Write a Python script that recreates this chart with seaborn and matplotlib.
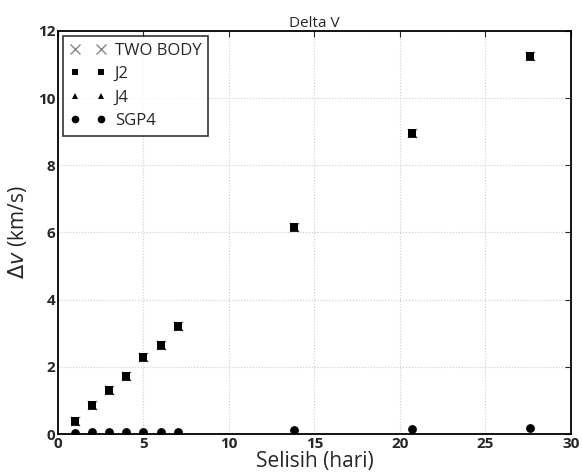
import matplotlib
matplotlib.use("Agg")
import matplotlib.pyplot as plt
from matplotlib.lines import Line2D
import seaborn as sns
import pandas as pd

days = [1, 2, 3, 4, 5, 6, 7, 13.8, 20.7, 27.6]
two_body = [0.40, 0.85, 1.32, 1.74, 2.30, 2.66, 3.22, 6.15, 8.95, 11.26]
j2 = [0.40, 0.85, 1.32, 1.74, 2.30, 2.66, 3.22, 6.15, 8.95, 11.26]
j4 = [0.40, 0.85, 1.32, 1.74, 2.30, 2.66, 3.22, 6.15, 8.95, 11.26]
sgp4 = [0.04, 0.05, 0.05, 0.06, 0.06, 0.07, 0.07, 0.12, 0.15, 0.17]

series_names = ["TWO BODY", "J2", "J4", "SGP4"]
series_values = [two_body, j2, j4, sgp4]

sns.set_style("white")
plt.rcParams['font.family'] = ['Open Sans', 'DejaVu Sans']
plt.rcParams['mathtext.fontset'] = 'dejavusans'

fig = plt.figure(figsize=(5.82, 4.72), dpi=100)
ax = fig.add_axes([0.0997, 0.0805, 0.881, 0.854])

styles = {
    "TWO BODY": dict(marker="x", color="#888888", s=45, linewidth=1.0),
    "J2": dict(marker="s", color="black", s=40, linewidth=0),
    "J4": dict(marker="^", color="black", s=40, linewidth=0),
    "SGP4": dict(marker="o", color="black", s=40, linewidth=0),
}
legend_ms = {"TWO BODY": 7, "J2": 4.5, "J4": 5, "SGP4": 5.5}

handles = []
for name, vals in zip(series_names, series_values):
    df = pd.DataFrame({"x": days, "y": vals})
    st = styles[name]
    sns.scatterplot(data=df, x="x", y="y", ax=ax, zorder=3, legend=False,
                    edgecolor=st["color"] if st["marker"] != "x" else None,
                    **st)
    handles.append(Line2D([], [], linestyle="none", marker=st["marker"],
                          color=st["color"], markersize=legend_ms[name],
                          markeredgewidth=1.0 if st["marker"] == "x" else 0,
                          label=name))

ax.set_xlim(0, 30)
ax.set_ylim(0, 12)
ax.set_xticks(range(0, 31, 5))
ax.set_yticks(range(0, 13, 2))
ax.grid(True, linestyle=":", color="#cccccc", linewidth=0.8)
ax.tick_params(direction="in", top=True, right=True, length=4, labelsize=11, pad=2)
for lbl in ax.get_xticklabels() + ax.get_yticklabels():
    lbl.set_fontweight("bold")
for sp in ax.spines.values():
    sp.set_linewidth(1.3)
    sp.set_color("black")

ax.set_xlabel("Selisih (hari)", fontsize=15, labelpad=0)
ax.set_ylabel(r"$\Delta v$ (km/s)", fontsize=15, labelpad=6)
ax.set_title("Delta V", fontsize=11, pad=3)

leg = ax.legend(handles=handles, loc="upper left", numpoints=2, fontsize=12,
                frameon=True, fancybox=False, borderpad=0.4, labelspacing=0.45,
                handletextpad=0.5, handlelength=2.2, borderaxespad=0.3)
leg.get_frame().set_edgecolor("black")
leg.get_frame().set_linewidth(1.2)

fig.savefig("out.png", dpi=100)
